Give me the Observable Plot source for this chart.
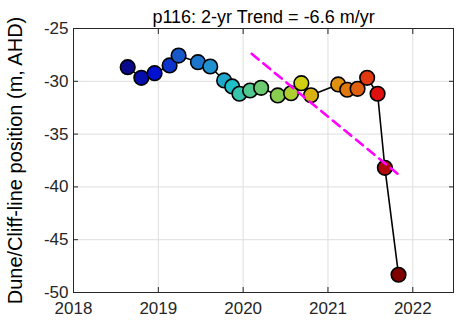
<!DOCTYPE html>
<html>
<head>
<meta charset="utf-8">
<script src="https://cdn.jsdelivr.net/npm/d3@7"></script>
<script src="https://cdn.jsdelivr.net/npm/@observablehq/plot@0.6"></script>
<style>
  html, body { margin: 0; padding: 0; background: #fff; }
  svg { display: block; }
</style>
</head>
<body>
<div id="chart"></div>
<script>
// Survey dates (decimal years) and dune/cliff-line position (m, AHD) for profile p116
const years = [2018.639, 2018.800, 2018.956, 2019.133, 2019.239, 2019.467, 2019.612,
  2019.776, 2019.871, 2019.956, 2020.082, 2020.212, 2020.408, 2020.565, 2020.686,
  2020.800, 2021.121, 2021.227, 2021.349, 2021.462, 2021.585, 2021.671, 2021.832];
const position = [-28.66, -29.67, -29.23, -28.50, -27.56, -28.19, -28.60,
  -29.92, -30.49, -31.18, -30.87, -30.62, -31.34, -31.13, -30.18,
  -31.32, -30.30, -30.80, -30.71, -29.67, -31.18, -38.19, -48.32];

// 2-year linear trend
const trendRate = -6.6;            // m/yr
const trendYears = [2020.10, 2021.82];
const trendStartValue = -27.4;

// Axis ticks
const xTicks = [2018, 2019, 2020, 2021, 2022];
const yTicks = [-50, -45, -40, -35, -30, -25];

const profile = "p116";
const yLabel = "Dune/Cliff-line position (m, AHD)";

// Jet-like ramp: early surveys blue, latest dark red
const rampStops = ["#0a0a8a", "#0010d0", "#1858c8", "#2090d0", "#20c0c8", "#50c890",
  "#88cc50", "#d0d010", "#e09010", "#e06010", "#e01010", "#800000"];
const ramp = d3.piecewise(d3.interpolateRgb, rampStops);

const surveys = years.map((t, i) => ({t, y: position[i], i}));
const trend = trendYears.map(t => ({t, y: trendStartValue + trendRate * (t - trendYears[0])}));
const title = `${profile}: 2-yr Trend = ${trendRate.toFixed(1)} m/yr`;

const fmt = d => String(d);
const font = "'Liberation Sans', Arial, Helvetica, sans-serif";

const chart = Plot.plot({
  width: 461,
  height: 320,
  marginLeft: 73,
  marginRight: 8,
  marginTop: 28,
  marginBottom: 28,
  style: {fontFamily: font, background: "#fff", color: "#262626"},
  x: {domain: [2018, 2022.48], ticks: xTicks},
  y: {domain: [-50, -25], ticks: yTicks},
  marks: [
    Plot.gridX(xTicks, {stroke: "#dedede", strokeOpacity: 1}),
    Plot.gridY(yTicks, {stroke: "#dedede", strokeOpacity: 1}),
    // inward ticks on all four sides
    Plot.axisX(xTicks, {anchor: "bottom", tickSize: -5, tickFormat: () => "", label: null, stroke: "#262626"}),
    Plot.axisX(xTicks, {anchor: "top", tickSize: -5, tickFormat: () => "", label: null, stroke: "#262626"}),
    Plot.axisY(yTicks, {anchor: "left", tickSize: -5, tickFormat: () => "", label: null, stroke: "#262626"}),
    Plot.axisY(yTicks, {anchor: "right", tickSize: -5, tickFormat: () => "", label: null, stroke: "#262626"}),
    // tick labels
    Plot.axisX(xTicks, {anchor: "bottom", tickSize: 0, tickPadding: 9, tickFormat: fmt, label: null, fontSize: 17, fill: "#262626"}),
    Plot.axisY(yTicks, {anchor: "left", tickSize: 0, tickPadding: 5, tickFormat: fmt, label: null, fontSize: 17, fill: "#262626"}),
    Plot.frame({stroke: "#262626", strokeWidth: 1}),
    // survey series
    Plot.line(surveys, {x: "t", y: "y", stroke: "black", strokeWidth: 1.6}),
    Plot.dot(surveys, {x: "t", y: "y", r: 7.3, fill: d => ramp(d.i / (surveys.length - 1)), stroke: "black", strokeWidth: 1.6}),
    // trend line
    Plot.line(trend, {x: "t", y: "y", stroke: "#ff00ff", strokeWidth: 2.6, strokeDasharray: "9,6"}),
    // title and y label
    Plot.text([title], {frameAnchor: "top", lineAnchor: "bottom", dy: -6, fontSize: 18, fill: "#000", text: d => d}),
    Plot.text([yLabel], {frameAnchor: "left", textAnchor: "middle", lineAnchor: "middle", dx: -58, rotate: -90, fontSize: 20, fill: "#000", text: d => d})
  ]
});

document.getElementById("chart").appendChild(chart);
</script>
</body>
</html>
